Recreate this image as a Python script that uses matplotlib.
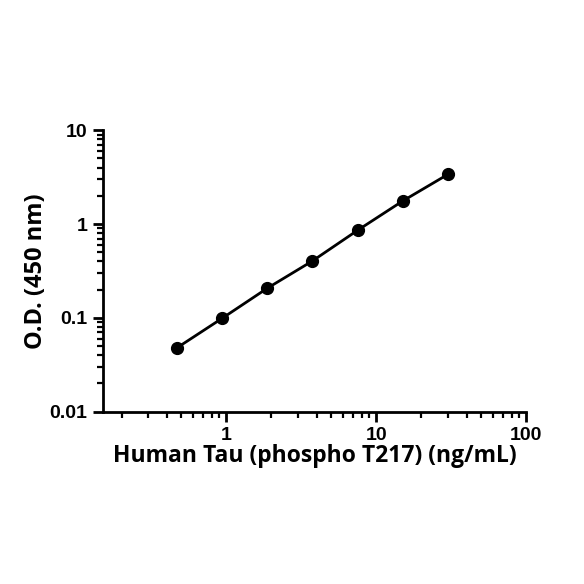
import matplotlib
matplotlib.use("Agg")
import matplotlib.pyplot as plt
from matplotlib.ticker import LogLocator, NullFormatter, FixedLocator, FixedFormatter
from matplotlib import font_manager

conc = [0.469, 0.938, 1.875, 3.75, 7.5, 15, 30]
od = [0.048, 0.099, 0.207, 0.404, 0.857, 1.76, 3.38]
xtick_vals = [1, 10, 100]
xtick_labels = ["1", "10", "100"]
ytick_vals = [0.01, 0.1, 1, 10]
ytick_labels = ["0.01", "0.1", "1", "10"]

names = {f.name for f in font_manager.fontManager.ttflist}
tick_font = "Liberation Sans Narrow" if "Liberation Sans Narrow" in names else "Liberation Sans"
label_font = "Open Sans"

fig = plt.figure(figsize=(5.84, 5.84), dpi=100)
ax = fig.add_axes([0.176, 0.295, 0.725, 0.482])
ax.set_xscale("log")
ax.set_yscale("log")
ax.plot(conc, od, color="black", lw=2, marker="o", ms=8.5, mfc="black", mec="black")
ax.set_xlim(0.15, 100)
ax.set_ylim(0.01, 10)

for s in ["top", "right"]:
    ax.spines[s].set_visible(False)
for s in ["left", "bottom"]:
    ax.spines[s].set_linewidth(2)

ax.xaxis.set_major_locator(FixedLocator(xtick_vals))
ax.xaxis.set_major_formatter(FixedFormatter(xtick_labels))
ax.yaxis.set_major_locator(FixedLocator(ytick_vals))
ax.yaxis.set_major_formatter(FixedFormatter(ytick_labels))
ax.xaxis.set_minor_locator(LogLocator(base=10, subs=range(2, 10), numticks=20))
ax.yaxis.set_minor_locator(LogLocator(base=10, subs=range(2, 10), numticks=20))
ax.xaxis.set_minor_formatter(NullFormatter())
ax.yaxis.set_minor_formatter(NullFormatter())
ax.tick_params(which="major", length=7, width=2, direction="out", pad=4)
ax.tick_params(which="minor", length=4, width=1.6, direction="out")
for lab in ax.get_xticklabels() + ax.get_yticklabels():
    lab.set_fontfamily(tick_font)
    lab.set_fontweight("bold")
    lab.set_fontsize(14)

ax.set_xlabel("Human Tau (phospho T217) (ng/mL)", fontfamily=label_font,
              fontweight="bold", fontsize=16.5, labelpad=0)
ax.set_ylabel("O.D. (450 nm)", fontfamily=label_font, fontweight="bold",
              fontsize=17, labelpad=1)

fig.savefig("out.png", dpi=100)
